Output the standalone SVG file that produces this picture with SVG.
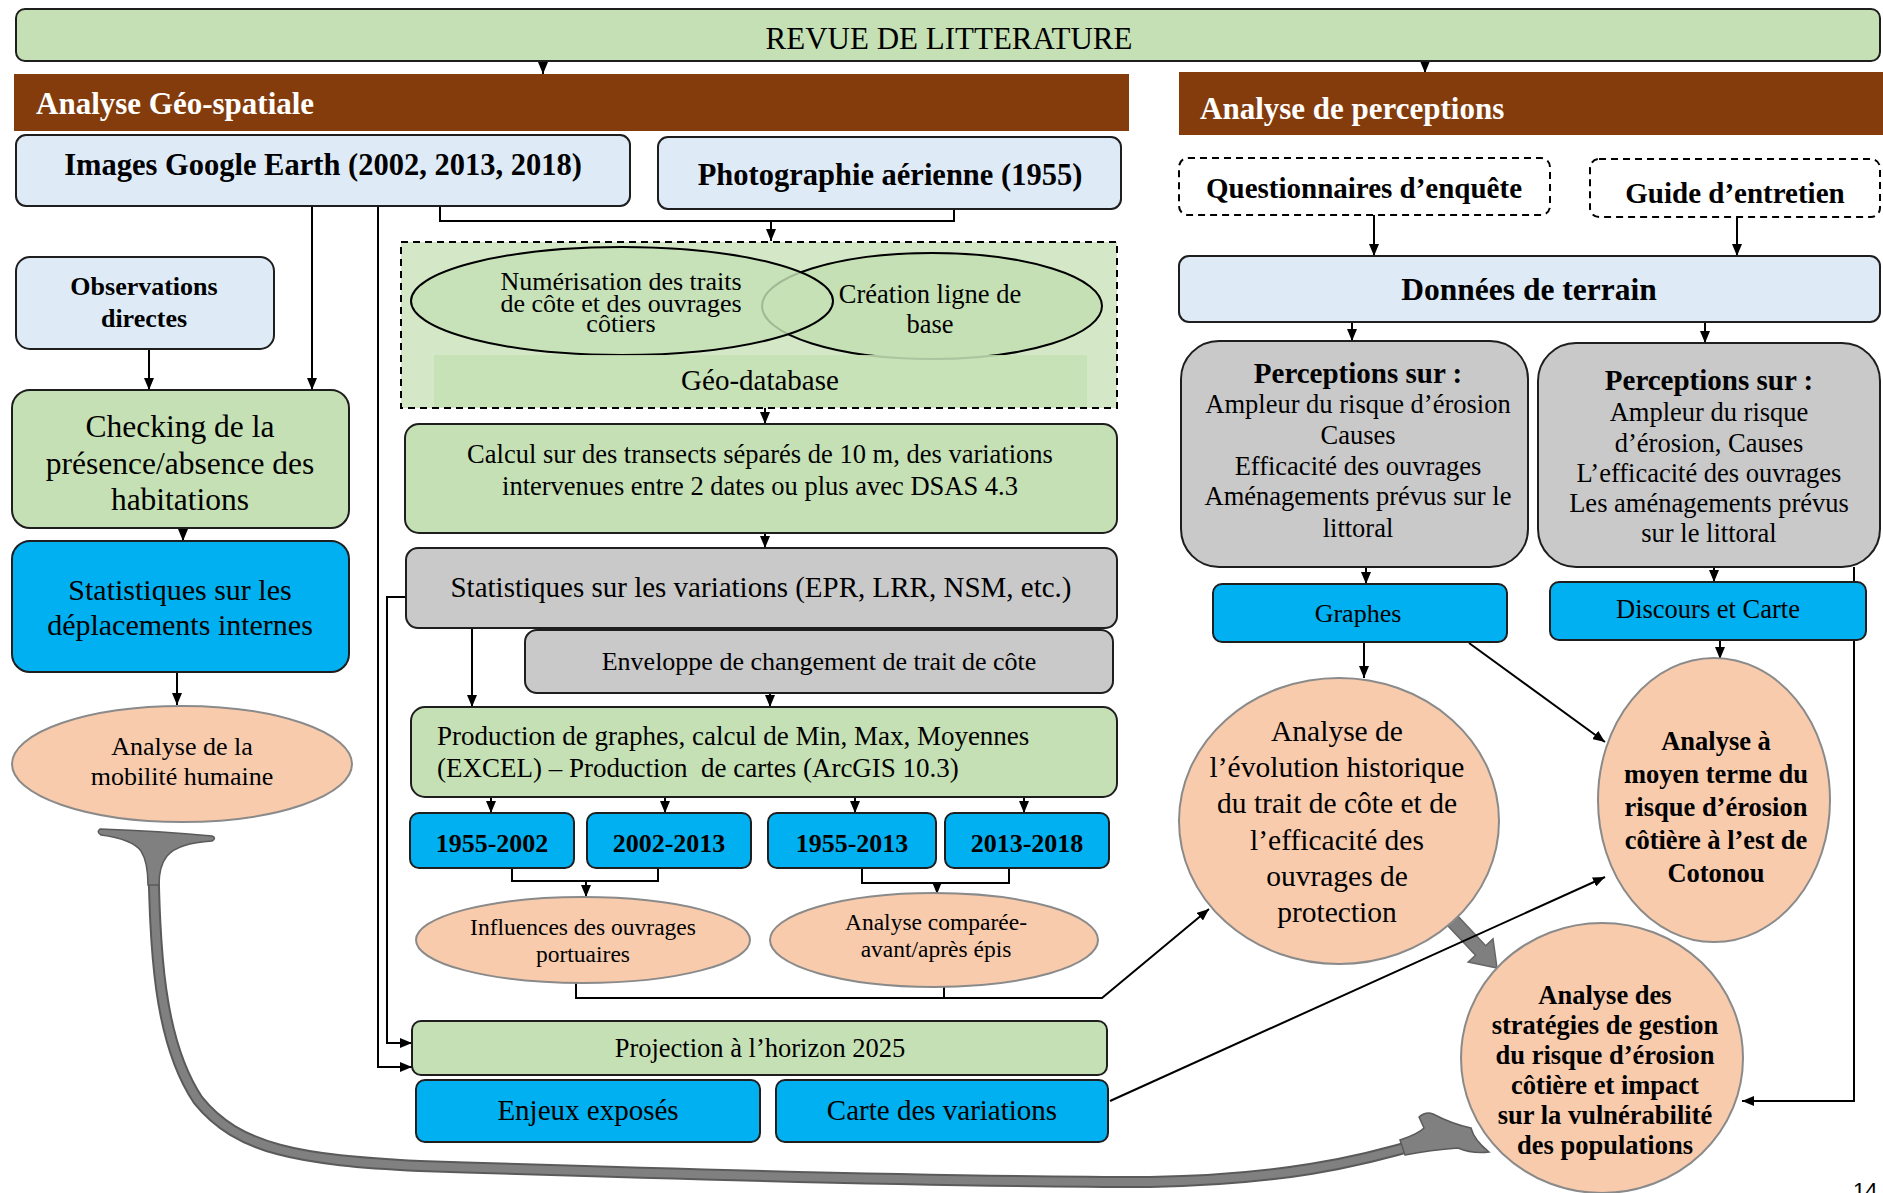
<svg xmlns="http://www.w3.org/2000/svg" width="1883" height="1193" viewBox="0 0 1883 1193">
<defs>
<marker id="ar" viewBox="0 0 12 10" refX="12" refY="5" markerWidth="12" markerHeight="10" markerUnits="userSpaceOnUse" orient="auto"><path d="M0,0 L12,5 L0,10 Z" fill="#000"/></marker>
<style>
text{font-family:"Liberation Serif","Times New Roman",serif;fill:#000}
.c{text-anchor:middle}
.b{font-weight:bold}
.box{stroke:#1e1e1e;stroke-width:2}
.green{fill:#C5E0B4}
.blue{fill:#DEEBF7}
.cyan{fill:#00B0F0}
.gray{fill:#C9C9C9}
.peach{fill:#F8CBAD;stroke:#8a8a8a;stroke-width:2}
.brown{fill:#843C0C}
.dash{fill:#fff;stroke:#000;stroke-width:2;stroke-dasharray:7 5}
.con{fill:none;stroke:#000;stroke-width:2}
.arr{marker-end:url(#ar)}
.wt{fill:#fff;font-weight:bold;font-size:31px}
</style>
</defs>

<g id="gray-arrows">
<path d="M153,845 C155,950 158,1040 198,1100 C238,1150 300,1160 420,1166 C700,1175 1000,1182 1150,1182 C1280,1180 1360,1162 1425,1142" fill="none" stroke="#5a5a5a" stroke-width="12"/>
<path d="M153,845 C155,950 158,1040 198,1100 C238,1150 300,1160 420,1166 C700,1175 1000,1182 1150,1182 C1280,1180 1360,1162 1425,1142" fill="none" stroke="#808080" stroke-width="8"/>
<path d="M100,829 Q160,831 212,836 Q217,838 212,841 Q178,843 167,856 Q159,866 159,885 L148,885 Q148,862 141,851 Q132,839 101,835 Q96,832 100,829 Z" fill="#808080" stroke="#5a5a5a" stroke-width="1.5"/>
<path d="M1400,1140 Q1418,1134 1424,1128 L1419,1117 Q1426,1111 1433,1114 Q1452,1124 1471,1128 Q1474,1140 1489,1152 Q1472,1154 1458,1148 Q1430,1150 1405,1155 Z" fill="#808080" stroke="#5a5a5a" stroke-width="1.5"/>
<polygon points="1457.1,915.2 1485.7,945.7 1493,938.9 1497,968 1468.2,962.1 1475.5,955.3 1446.9,924.8" fill="#7f7f7f" stroke="#666" stroke-width="1.5"/>
</g>

<g id="connectors">
<path class="con arr" d="M543,61 L543,74"/>
<path class="con arr" d="M1425,61 L1425,73"/>
<path class="con" d="M440,205 L440,221 L954,221 L954,209"/>
<path class="con arr" d="M771,221 L771,241"/>
<path class="con arr" d="M312,205 L312,390"/>
<path class="con arr" d="M149,349 L149,390"/>
<path class="con arr" d="M183,528 L183,541"/>
<path class="con arr" d="M177,672 L177,705"/>
<path class="con arr" d="M378,205 L378,1067 L412,1067"/>
<path class="con arr" d="M406,597 L387,597 L387,1043 L412,1043"/>
<path class="con arr" d="M765,408 L765,424"/>
<path class="con arr" d="M765,533 L765,548"/>
<path class="con arr" d="M472,628 L472,707"/>
<path class="con arr" d="M770,693 L770,707"/>
<path class="con arr" d="M491,797 L491,813"/>
<path class="con arr" d="M665,797 L665,813"/>
<path class="con arr" d="M855,797 L855,813"/>
<path class="con arr" d="M1024,797 L1024,813"/>
<path class="con" d="M512,868 L512,881 L658,881 L658,868"/>
<path class="con arr" d="M586,881 L586,897"/>
<path class="con" d="M862,868 L862,883 L1009,883 L1009,868"/>
<path class="con arr" d="M937,883 L937,894"/>
<path class="con arr" d="M576,983 L576,998 L1102,998 L1209,909"/>
<path class="con" d="M944,987 L944,998"/>
<path class="con arr" d="M1110,1101 L1605,877"/>
<path class="con arr" d="M1374,215 L1374,256"/>
<path class="con arr" d="M1737,217 L1737,256"/>
<path class="con arr" d="M1352,322 L1352,341"/>
<path class="con arr" d="M1705,322 L1705,343"/>
<path class="con arr" d="M1366,567 L1366,584"/>
<path class="con arr" d="M1714,567 L1714,582"/>
<path class="con arr" d="M1364,642 L1364,678"/>
<path class="con arr" d="M1469,643 L1605,742"/>
<path class="con arr" d="M1720,640 L1720,659"/>
<path class="con arr" d="M1854,567 L1854,1101 L1742,1101"/>
</g>

<g id="revue"><rect class="box green" x="16" y="9" width="1864" height="52" rx="9"/><text class="c" x="949" y="49" font-size="31">REVUE DE LITTERATURE</text></g>
<g id="geo-header"><rect class="brown" x="14" y="74" width="1115" height="57"/><text class="wt" x="36" y="114">Analyse Géo-spatiale</text></g>
<g id="perc-header"><rect class="brown" x="1179" y="72" width="704" height="63"/><text class="wt" x="1200" y="119">Analyse de perceptions</text></g>

<g id="google"><rect class="box blue" x="16" y="135" width="614" height="71" rx="10"/><text class="c b" x="323" y="175" font-size="30.5">Images Google Earth (2002, 2013, 2018)</text></g>
<g id="photo"><rect class="box blue" x="658" y="137" width="463" height="72" rx="10"/><text class="c b" x="890" y="185" font-size="30.5">Photographie aérienne (1955)</text></g>

<g id="observations"><rect class="box blue" x="16" y="257" width="258" height="92" rx="14"/><text class="c b" x="144" y="295" font-size="26">Observations</text><text class="c b" x="144" y="327" font-size="26">directes</text></g>
<g id="checking"><rect class="box green" x="12" y="390" width="337" height="138" rx="18"/><text class="c" x="180" y="437" font-size="31.5">Checking de la</text><text class="c" x="180" y="474" font-size="31.5">présence/absence des</text><text class="c" x="180" y="510" font-size="31.5">habitations</text></g>
<g id="stats-depl"><rect class="box cyan" x="12" y="541" width="337" height="131" rx="18"/><text class="c" x="180" y="600" font-size="30">Statistiques sur les</text><text class="c" x="180" y="635" font-size="30">déplacements internes</text></g>
<g id="mobilite"><ellipse class="peach" cx="182" cy="764" rx="170" ry="58"/><text class="c" x="182" y="755" font-size="26">Analyse de la</text><text class="c" x="182" y="785" font-size="26">mobilité humaine</text></g>

<g id="geodatabase">
<rect x="401" y="242" width="716" height="166" fill="#D4E8C8" stroke="#000" stroke-width="2" stroke-dasharray="7 5"/>
<ellipse cx="932" cy="306" rx="170" ry="53" fill="#C5E0B4" stroke="#000" stroke-width="2"/>
<ellipse cx="622" cy="301" rx="211" ry="54" fill="#C5E0B4" fill-opacity="0.82" stroke="#000" stroke-width="2"/>
<rect x="434" y="355" width="653" height="52" fill="#C5E0B4" fill-opacity="0.88"/>
<text class="c" x="621" y="290" font-size="26">Numérisation des traits</text>
<text class="c" x="621" y="312" font-size="26">de côte et des ouvrages</text>
<text class="c" x="621" y="332" font-size="26">côtiers</text>
<text class="c" x="930" y="303" font-size="26.5">Création ligne de</text>
<text class="c" x="930" y="333" font-size="26.5">base</text>
<text class="c" x="760" y="390" font-size="29">Géo-database</text>
</g>

<g id="calcul"><rect class="box green" x="405" y="424" width="712" height="109" rx="14"/><text class="c" x="760" y="463" font-size="26.5">Calcul sur des transects séparés de 10 m, des variations</text><text class="c" x="760" y="495" font-size="26.5">intervenues entre 2 dates ou plus avec DSAS 4.3</text></g>
<g id="stats-var"><rect class="box gray" x="406" y="548" width="711" height="80" rx="12"/><text class="c" x="761" y="597" font-size="29">Statistiques sur les variations (EPR, LRR, NSM, etc.)</text></g>
<g id="enveloppe"><rect class="box gray" x="525" y="630" width="588" height="63" rx="12"/><text class="c" x="819" y="670" font-size="26">Enveloppe de changement de trait de côte</text></g>
<g id="production"><rect class="box green" x="411" y="707" width="706" height="90" rx="14"/><text x="437" y="745" font-size="27">Production de graphes, calcul de Min, Max, Moyennes</text><text x="437" y="777" font-size="27" xml:space="preserve">(EXCEL) – Production  de cartes (ArcGIS 10.3)</text></g>

<g id="y1955-2002"><rect class="box cyan" x="410" y="813" width="164" height="55" rx="9"/><text class="c b" x="492" y="852" font-size="26">1955-2002</text></g>
<g id="y2002-2013"><rect class="box cyan" x="587" y="813" width="164" height="55" rx="9"/><text class="c b" x="669" y="852" font-size="26">2002-2013</text></g>
<g id="y1955-2013"><rect class="box cyan" x="768" y="813" width="168" height="55" rx="9"/><text class="c b" x="852" y="852" font-size="26">1955-2013</text></g>
<g id="y2013-2018"><rect class="box cyan" x="945" y="813" width="164" height="55" rx="9"/><text class="c b" x="1027" y="852" font-size="26">2013-2018</text></g>

<g id="influences"><ellipse class="peach" cx="583" cy="940" rx="167" ry="43"/><text class="c" x="583" y="935" font-size="23.5">Influences des ouvrages</text><text class="c" x="583" y="962" font-size="23.5">portuaires</text></g>
<g id="comparee"><ellipse class="peach" cx="934" cy="940" rx="164" ry="47"/><text class="c" x="936" y="930" font-size="23.5">Analyse comparée-</text><text class="c" x="936" y="957" font-size="23.5">avant/après épis</text></g>

<g id="projection"><rect class="box green" x="412" y="1021" width="695" height="54" rx="9"/><text class="c" x="760" y="1057" font-size="26.5">Projection à l’horizon 2025</text></g>
<g id="enjeux"><rect class="box cyan" x="416" y="1080" width="344" height="62" rx="9"/><text class="c" x="588" y="1120" font-size="29">Enjeux exposés</text></g>
<g id="carte-var"><rect class="box cyan" x="776" y="1080" width="332" height="62" rx="9"/><text class="c" x="942" y="1120" font-size="29">Carte des variations</text></g>

<g id="questionnaires"><rect class="dash" x="1179" y="158" width="371" height="57" rx="9"/><text class="c b" x="1364" y="198" font-size="29">Questionnaires d’enquête</text></g>
<g id="guide"><rect class="dash" x="1590" y="159" width="290" height="58" rx="9"/><text class="c b" x="1735" y="203" font-size="29">Guide d’entretien</text></g>
<g id="donnees"><rect class="box blue" x="1179" y="256" width="701" height="66" rx="10"/><text class="c b" x="1529" y="300" font-size="31.5">Données de terrain</text></g>

<g id="perceptions1"><rect class="box gray" x="1181" y="341" width="347" height="226" rx="38"/>
<text class="c b" x="1358" y="383" font-size="29">Perceptions sur :</text>
<text class="c" x="1358" y="413" font-size="26.5">Ampleur du risque d’érosion</text>
<text class="c" x="1358" y="444" font-size="26.5">Causes</text>
<text class="c" x="1358" y="475" font-size="26.5">Efficacité des ouvrages</text>
<text class="c" x="1358" y="505" font-size="26.5">Aménagements prévus sur le</text>
<text class="c" x="1358" y="537" font-size="26.5">littoral</text></g>
<g id="perceptions2"><rect class="box gray" x="1538" y="343" width="342" height="224" rx="38"/>
<text class="c b" x="1709" y="390" font-size="29">Perceptions sur :</text>
<text class="c" x="1709" y="421" font-size="26.5">Ampleur du risque</text>
<text class="c" x="1709" y="452" font-size="26.5">d’érosion, Causes</text>
<text class="c" x="1709" y="482" font-size="26.5">L’efficacité des ouvrages</text>
<text class="c" x="1709" y="512" font-size="26.5">Les aménagements prévus</text>
<text class="c" x="1709" y="542" font-size="26.5">sur le littoral</text></g>

<g id="graphes"><rect class="box cyan" x="1213" y="584" width="294" height="58" rx="9"/><text class="c" x="1358" y="622" font-size="26">Graphes</text></g>
<g id="discours"><rect class="box cyan" x="1550" y="582" width="316" height="58" rx="9"/><text class="c" x="1708" y="618" font-size="26.5">Discours et Carte</text></g>

<g id="historique"><ellipse class="peach" cx="1339" cy="821" rx="160" ry="143"/>
<text class="c" x="1337" y="741" font-size="29.5">Analyse de</text>
<text class="c" x="1337" y="777" font-size="29.5">l’évolution historique</text>
<text class="c" x="1337" y="813" font-size="29.5">du trait de côte et de</text>
<text class="c" x="1337" y="850" font-size="29.5">l’efficacité des</text>
<text class="c" x="1337" y="886" font-size="29.5">ouvrages de</text>
<text class="c" x="1337" y="922" font-size="29.5">protection</text></g>
<g id="moyen-terme"><ellipse class="peach" cx="1714" cy="800" rx="116" ry="142"/>
<text class="c b" x="1716" y="750" font-size="26.5">Analyse à</text>
<text class="c b" x="1716" y="783" font-size="26.5">moyen terme du</text>
<text class="c b" x="1716" y="816" font-size="26.5">risque d’érosion</text>
<text class="c b" x="1716" y="849" font-size="26.5">côtière à l’est de</text>
<text class="c b" x="1716" y="882" font-size="26.5">Cotonou</text></g>
<g id="strategies"><ellipse class="peach" cx="1602" cy="1058" rx="141" ry="135"/>
<text class="c b" x="1605" y="1004" font-size="26.5">Analyse des</text>
<text class="c b" x="1605" y="1034" font-size="26.5">stratégies de gestion</text>
<text class="c b" x="1605" y="1064" font-size="26.5">du risque d’érosion</text>
<text class="c b" x="1605" y="1094" font-size="26.5">côtière et impact</text>
<text class="c b" x="1605" y="1124" font-size="26.5">sur la vulnérabilité</text>
<text class="c b" x="1605" y="1154" font-size="26.5">des populations</text></g>

<text x="1853" y="1198" font-family="Liberation Sans, Arial, sans-serif" font-size="22" style="font-family:'Liberation Sans',Arial,sans-serif">14</text>
</svg>
